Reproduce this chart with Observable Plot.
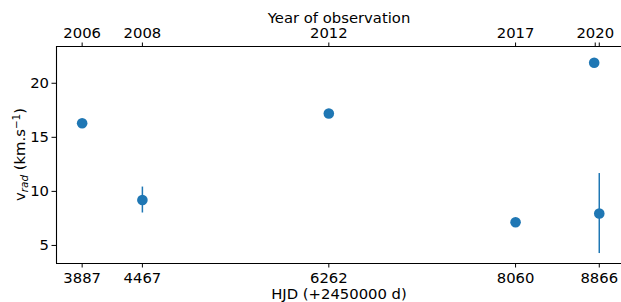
<!DOCTYPE html>
<html>
<head>
<meta charset="utf-8">
<script src="https://cdn.jsdelivr.net/npm/d3@7"></script>
<script src="https://cdn.jsdelivr.net/npm/@observablehq/plot@0.6"></script>
<style>
  html, body { margin: 0; padding: 0; background: white; }
  #chart svg { display: block; }
</style>
</head>
<body>
<div id="chart"></div>
<script>
// Data
const hjd   = [3887, 4467, 6262, 8060, 8817, 8866];
const vrad  = [16.3, 9.2, 17.2, 7.15, 21.9, 7.95];
const verr  = [0, 1.2, 0, 0, 0, 3.7];

// Tick labels
const bottomTicks = [3887, 4467, 6262, 8060, 8866];
const topTicks    = [3887, 4467, 6262, 8060, 8827, 8866];
const topLabels   = ["2006", "2008", "2012", "2017", "2020", ""];
const yTicks      = [5, 10, 15, 20];

const xDomain = [3640, 9080];
const yDomain = [3.33, 23.4];

const data = hjd.map((x, i) => ({x, v: vrad[i], e: verr[i]}));
const errData = data.filter(d => d.e > 0);
const yearMap = new Map(topTicks.map((t, i) => [t, topLabels[i]]));

const blue = "#1f77b4";

const chart = Plot.plot({
  width: 621,
  height: 302,
  marginLeft: 56,
  marginRight: 0,
  marginTop: 46,
  marginBottom: 39,
  style: {fontFamily: "DejaVu Sans", fontSize: "14.8px", color: "black", background: "white"},
  x: {domain: xDomain},
  y: {domain: yDomain},
  marks: [
    Plot.axisX(bottomTicks, {anchor: "bottom", tickSize: 4.5, tickPadding: 4, tickFormat: d => String(d), label: null}),
    Plot.axisX(topTicks, {anchor: "top", tickSize: 4.5, tickPadding: 4, tickFormat: d => yearMap.get(d), label: null}),
    Plot.axisY(yTicks, {anchor: "left", tickSize: 4.5, tickPadding: 3, label: null}),
    Plot.ruleY([yDomain[0]], {stroke: "black", strokeWidth: 1.1}),
    Plot.ruleY([yDomain[1]], {stroke: "black", strokeWidth: 1.1}),
    Plot.ruleX([xDomain[0]], {stroke: "black", strokeWidth: 1.1}),
    Plot.ruleX(errData, {x: "x", y1: d => d.v - d.e, y2: d => d.v + d.e, stroke: blue, strokeWidth: 1.5}),
    Plot.dot(data, {x: "x", y: "v", r: 5.3, fill: blue}),
    Plot.text(["Year of observation"], {frameAnchor: "top", lineAnchor: "bottom", dy: -23.8, fill: "black"}),
    Plot.text(["HJD (+2450000 d)"], {frameAnchor: "bottom", lineAnchor: "bottom", dy: 35, fill: "black"})
  ]
});

document.getElementById("chart").appendChild(chart);

// Y axis label with subscript / superscript
const svg = d3.select(chart);
const cy = (46 + (302 - 39)) / 2;
const lab = svg.append("text")
  .attr("transform", `translate(25,${cy}) rotate(-90)`)
  .attr("text-anchor", "middle")
  .attr("fill", "black")
  .style("font-family", "DejaVu Sans")
  .style("font-size", "14.8px");
lab.append("tspan").text("v");
lab.append("tspan").attr("dy", "3").style("font-style", "italic").style("font-size", "10.4px").text("rad");
lab.append("tspan").attr("dy", "-3").text(" (km.s");
lab.append("tspan").attr("dy", "-5").style("font-size", "10.4px").text("\u22121");
lab.append("tspan").attr("dy", "5").text(")");
</script>
</body>
</html>
